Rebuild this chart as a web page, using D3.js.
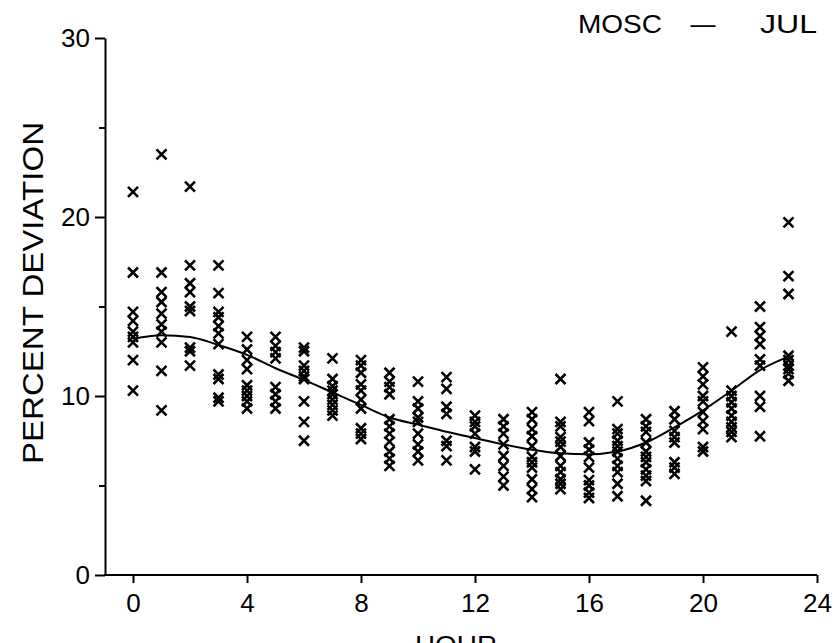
<!DOCTYPE html>
<html>
<head>
<meta charset="utf-8">
<script src="https://cdn.jsdelivr.net/npm/d3@7"></script>
<style>
  html, body { margin: 0; padding: 0; background: #fff; }
  svg { display: block; }
  text { font-family: "Liberation Sans", Arial, sans-serif; fill: #000; }
</style>
</head>
<body>
<svg id="chart" width="837" height="643"></svg>
<script>
// ---- Data ----
const hours = d3.range(0, 24);
const xTicks = [0, 4, 8, 12, 16, 20, 24];
const yTicks = [0, 10, 20, 30];
const yMinorTicks = [5, 15, 25];
const title = ["MOSC", "\u2013", "JUL"];
const xLabel = "HOUR";
const yLabel = "PERCENT DEVIATION";

// observed percent deviations per hour
const observed = [
  [21.4, 16.9, 14.7, 14.2, 13.6, 13.3, 13.0, 12.0, 10.3],
  [23.5, 16.9, 15.8, 15.25, 14.6, 14.0, 13.6, 13.0, 11.4, 9.2],
  [21.7, 17.3, 16.3, 15.8, 15.0, 14.75, 12.7, 12.5, 11.7],
  [17.3, 15.75, 14.7, 14.4, 13.9, 13.5, 12.9, 11.2, 10.95, 9.9, 9.7],
  [13.3, 12.6, 12.0, 11.5, 10.6, 10.3, 10.0, 9.7, 9.3],
  [13.3, 12.8, 12.45, 12.1, 10.5, 10.1, 9.7, 9.3],
  [12.7, 12.5, 11.7, 11.4, 11.1, 10.95, 9.7, 8.55, 7.5],
  [12.1, 10.95, 10.55, 10.3, 10.1, 9.8, 9.5, 9.2, 8.9],
  [12.0, 11.7, 11.3, 10.65, 10.3, 9.8, 9.3, 8.2, 7.9, 7.6],
  [11.3, 10.8, 10.5, 10.1, 8.7, 8.3, 7.9, 7.45, 6.9, 6.5, 6.1],
  [10.8, 9.7, 9.3, 8.8, 8.55, 7.9, 7.3, 6.9, 6.4],
  [11.05, 10.4, 9.4, 9.0, 7.5, 7.2, 6.4],
  [8.9, 8.55, 8.3, 7.9, 7.15, 6.9, 5.9],
  [8.7, 8.3, 7.9, 7.3, 6.65, 6.1, 5.5, 5.0],
  [9.1, 8.7, 8.15, 7.75, 7.2, 6.6, 6.3, 6.0, 5.35, 4.8, 4.35],
  [10.95, 8.55, 8.3, 7.7, 7.45, 7.15, 6.65, 6.1, 5.75, 5.35, 5.1, 4.8],
  [9.1, 8.6, 7.4, 7.0, 6.6, 6.0, 5.3, 5.0, 4.6, 4.3],
  [9.7, 8.15, 7.9, 7.5, 7.2, 6.9, 6.5, 6.1, 5.75, 5.1, 4.4],
  [8.7, 8.3, 8.0, 7.4, 6.9, 6.6, 6.3, 5.9, 5.55, 5.25, 4.15],
  [9.15, 8.7, 8.05, 7.7, 7.4, 6.3, 6.0, 5.65],
  [11.6, 11.1, 10.65, 10.0, 9.7, 9.1, 8.6, 8.15, 7.15, 6.9],
  [13.6, 10.3, 10.0, 9.65, 9.3, 8.9, 8.55, 8.25, 8.0, 7.7],
  [15.0, 13.85, 13.35, 12.9, 12.05, 11.7, 10.0, 9.4, 7.75],
  [19.7, 16.7, 15.7, 12.25, 12.0, 11.7, 11.5, 11.25, 10.85]
];

// fitted curve value per hour
const fitted = [13.2, 13.4, 13.3, 12.85, 12.3, 11.55, 10.9, 10.2, 9.5, 8.8, 8.4, 8.0,
                7.65, 7.3, 7.0, 6.8, 6.75, 6.9, 7.4, 8.25, 9.2, 10.3, 11.45, 12.2];

// ---- Drawing ----
const svg = d3.select("#chart");
const x = d3.scaleLinear().domain([0, 24]).range([133, 817]);
const y = d3.scaleLinear().domain([0, 30]).range([575, 38]);

const axisStroke = 2;

// Y axis
const yAxis = svg.append("g").attr("transform", `translate(105,0)`)
  .call(d3.axisLeft(y).tickValues(yTicks).tickSize(10).tickSizeOuter(0).tickPadding(5));
yAxis.selectAll(".tick text").style("font-size", "26px")
  .style("font-family", "'Liberation Sans', Arial, sans-serif").attr("fill", "#000");
yAxis.selectAll("line, path").attr("stroke", "#000").attr("stroke-width", axisStroke);
svg.append("g").attr("transform", `translate(105,0)`)
  .call(d3.axisLeft(y).tickValues(yMinorTicks).tickSize(6).tickFormat(""))
  .call(g => g.select(".domain").remove())
  .selectAll("line").attr("stroke", "#000").attr("stroke-width", axisStroke);

// X axis
const xAxis = svg.append("g").attr("transform", `translate(0,${y(0)})`)
  .call(d3.axisBottom(x).tickValues(xTicks).tickSize(8).tickPadding(11));
xAxis.select(".domain").remove();
xAxis.selectAll(".tick text").style("font-size", "26px")
  .style("font-family", "'Liberation Sans', Arial, sans-serif").attr("fill", "#000");
xAxis.selectAll("line").attr("stroke", "#000").attr("stroke-width", axisStroke);
svg.append("line")
  .attr("x1", 104).attr("x2", x(24)).attr("y1", y(0)).attr("y2", y(0))
  .attr("stroke", "#000").attr("stroke-width", axisStroke);

// Points
const pts = [];
observed.forEach((vals, i) => vals.forEach(v => pts.push({h: hours[i], v})));
const s = 5;
svg.append("g").selectAll("path.pt").data(pts).join("path")
  .attr("class", "pt")
  .attr("transform", d => `translate(${x(d.h)},${y(d.v)})`)
  .attr("d", `M${-s},${-s}L${s},${s}M${s},${-s}L${-s},${s}`)
  .attr("stroke", "#000").attr("stroke-width", 2.6).attr("fill", "none");

// Fitted curve
const line = d3.line().x((d, i) => x(hours[i])).y(d => y(d)).curve(d3.curveMonotoneX);
svg.append("path").datum(fitted).attr("d", line)
  .attr("fill", "none").attr("stroke", "#000").attr("stroke-width", 2);

// Title
const t = svg.append("g");
t.append("text").attr("x", 578).attr("y", 33).attr("font-size", 26)
  .attr("textLength", 84).attr("lengthAdjust", "spacingAndGlyphs").text(title[0]);
t.append("text").attr("x", 703).attr("y", 33).attr("text-anchor", "middle").attr("font-size", 26)
  .attr("textLength", 25).attr("lengthAdjust", "spacingAndGlyphs").text(title[1]);
t.append("text").attr("x", 760).attr("y", 33).attr("font-size", 26)
  .attr("textLength", 57).attr("lengthAdjust", "spacingAndGlyphs").text(title[2]);

// Axis labels
svg.append("text").attr("x", 456).attr("y", 654).attr("text-anchor", "middle")
  .attr("font-size", 26).attr("textLength", 82).attr("lengthAdjust", "spacingAndGlyphs").text(xLabel);
svg.append("text").attr("transform", "translate(43,293) rotate(-90)")
  .attr("text-anchor", "middle").attr("font-size", 30)
  .attr("textLength", 342).attr("lengthAdjust", "spacingAndGlyphs").text(yLabel);
</script>
</body>
</html>
